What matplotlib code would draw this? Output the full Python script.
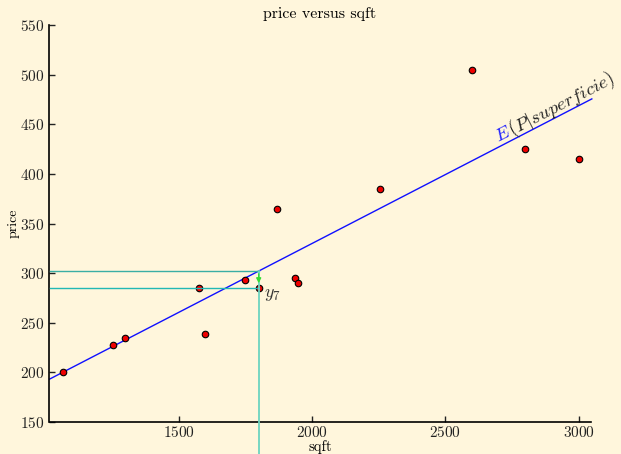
import matplotlib
matplotlib.use("Agg")
import matplotlib.pyplot as plt
import numpy as np

sqft = [1065, 1254, 1300, 1577, 1600, 1750, 1800, 1870, 1935, 1948, 2254, 2600, 2800, 3000]
price = [199.9, 228, 235, 285, 239, 293, 285, 365, 295, 290, 385, 505, 425, 415]
intercept = 52.35
slope = 0.13875
x_ticks = [1500, 2000, 2500, 3000]
y_ticks = [150, 200, 250, 300, 350, 400, 450, 500, 550]
idx = 6  # y7

plt.rcParams['font.family'] = 'serif'
plt.rcParams['font.serif'] = ['cmr10', 'DejaVu Serif']
plt.rcParams['mathtext.fontset'] = 'cm'
plt.rcParams['axes.formatter.use_mathtext'] = True

bg = '#fff6dc'
fig = plt.figure(figsize=(6.21, 4.54), dpi=100, facecolor=bg)
ax = fig.add_axes([49.5/621, 1-422/454, (590.5-49.5)/621, (422-25)/454])
ax.set_facecolor(bg)

xlim = (1015, 3045)
ylim = (150, 550)
ax.set_xlim(*xlim)
ax.set_ylim(*ylim)

xs = np.array([xlim[0], 3050])
ax.plot(xs, intercept + slope*xs, color='#1010ff', lw=1.0, zorder=2, clip_on=False)

ax.scatter(sqft, price, s=22, c='#ee0000', edgecolors='black', linewidths=0.8, zorder=3)

x7 = sqft[idx]; y7 = price[idx]; yhat = intercept + slope*x7
ax.plot([xlim[0], x7], [yhat, yhat], color='#3aaea4', lw=1.0, zorder=4)
ax.plot([xlim[0], x7], [y7, y7], color='#22b8b4', lw=1.0, zorder=4)
ax.plot([x7, x7], [yhat, 100], color='#6cd4c0', lw=1.3, zorder=5, clip_on=False)
ax.annotate('', xy=(x7, y7+2), xytext=(x7, yhat),
            arrowprops=dict(arrowstyle='-|>', color='#33dd33', lw=1.0, mutation_scale=7), zorder=6)
ax.text(x7+20, y7-7, r'$y_7$', fontsize=13, color='#333333', ha='left', va='center')

ang = 27.3
ex, ey = 2700, 432
ax.text(ex, ey, r'$E$', fontsize=13.5, color='#2020ff', rotation=ang,
        rotation_mode='anchor', ha='left', va='baseline')
off = 10.8
ax.annotate(r'$(P|superficie)$', xy=(ex, ey), xycoords='data',
            xytext=(off*np.cos(np.radians(ang)), off*np.sin(np.radians(ang))),
            textcoords='offset points', fontsize=13.5, color='#222222', rotation=ang,
            rotation_mode='anchor', ha='left', va='baseline', annotation_clip=False)

for s in ['top', 'right']:
    ax.spines[s].set_visible(False)
for s in ['left', 'bottom']:
    ax.spines[s].set_linewidth(1.2)
ax.set_xticks(x_ticks)
ax.set_yticks(y_ticks)
ax.tick_params(direction='in', length=4, width=1.0, labelsize=11, colors='#222222', pad=4)
ax.tick_params(axis='x', pad=2.5)
ax.set_xlabel('sqft', fontsize=10.5, labelpad=-0.5)
ax.set_ylabel('price', fontsize=10, labelpad=0)
ax.set_title('price versus sqft', fontsize=11.5, pad=5)

fig.savefig('out.png', dpi=100, facecolor=bg)
